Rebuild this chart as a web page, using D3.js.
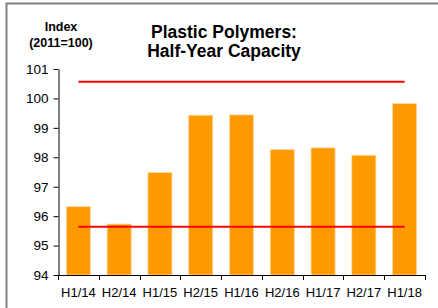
<!DOCTYPE html>
<html>
<head>
<meta charset="utf-8">
<script src="https://cdn.jsdelivr.net/npm/d3@7"></script>
<style>
body { margin: 0; background: #fff; }
svg text { font-family: Arial, "Liberation Sans", sans-serif; fill: #000; }
</style>
</head>
<body>
<div class="chart"></div>
<script>
var categories = ["H1/14", "H2/14", "H1/15", "H2/15", "H1/16", "H2/16", "H1/17", "H2/17", "H1/18"];
var capacity = [96.32, 95.73, 97.48, 99.43, 99.44, 98.26, 98.32, 98.07, 99.83];
var upperLine = 100.57;
var lowerLine = 95.64;
var yTicks = [94, 95, 96, 97, 98, 99, 100, 101];

var w = 438, h = 308;
var padLeft = 58, padRight = 425, padTop = 69, padBottom = 275;

var svg = d3.select(".chart").append("svg")
    .attr("width", w)
    .attr("height", h);

// frame (only top and left edges show in the picture)
svg.append("path")
    .attr("d", "M6.5,308 V3.5 H438")
    .attr("fill", "none")
    .attr("stroke", "#808080")
    .attr("stroke-width", 2);

var xScale = d3.scaleBand()
    .domain(categories)
    .range([padLeft, padRight])
    .paddingInner(0.41)
    .paddingOuter(0.205);

var xBand = d3.scaleBand() // for tick positions at band edges
    .domain(categories)
    .range([padLeft, padRight]);

var yScale = d3.scaleLinear()
    .domain([94, 101])
    .range([padBottom, padTop]);

// bars
svg.selectAll("rect.bar")
    .data(capacity)
    .enter()
    .append("rect")
    .attr("class", "bar")
    .attr("x", function(d, i) { return xScale(categories[i]); })
    .attr("y", function(d) { return yScale(d); })
    .attr("width", xScale.bandwidth())
    .attr("height", function(d) { return yScale(94) - yScale(d); })
    .attr("fill", "#FF9900")
    .attr("stroke", "#FFD9A0")
    .attr("stroke-width", 0.8);

// red reference lines
var x1 = xBand(categories[0]) + xBand.bandwidth() / 2;
var x2 = xBand(categories[categories.length - 1]) + xBand.bandwidth() / 2;
[upperLine, lowerLine].forEach(function(v) {
    svg.append("line")
        .attr("x1", x1)
        .attr("x2", x2)
        .attr("y1", yScale(v))
        .attr("y2", yScale(v))
        .attr("stroke", "#FF0000")
        .attr("stroke-width", 2);
});

// y axis
var yAxis = svg.append("g")
    .attr("transform", "translate(" + (padLeft + 0.5) + ",0)")
    .call(d3.axisLeft(yScale)
        .tickValues(yTicks)
        .tickFormat(d3.format("d"))
        .tickSize(5)
        .tickSizeOuter(0)
        .tickPadding(5));
yAxis.selectAll("text")
    .attr("font-size", 13.5)
    .attr("font-family", "Arial, 'Liberation Sans', sans-serif");

// x axis with ticks at band edges
var xAxis = svg.append("g")
    .attr("transform", "translate(0," + padBottom + ")");
xAxis.append("line")
    .attr("x1", padLeft).attr("x2", padRight)
    .attr("y1", 0.5).attr("y2", 0.5)
    .attr("stroke", "#000");
var edges = categories.map(function(c) { return xBand(c); }).concat([padRight]);
xAxis.selectAll("line.tick")
    .data(edges)
    .enter()
    .append("line")
    .attr("class", "tick")
    .attr("x1", function(d) { return Math.round(d) + 0.5; })
    .attr("x2", function(d) { return Math.round(d) + 0.5; })
    .attr("y1", 0)
    .attr("y2", 5)
    .attr("stroke", "#000");
xAxis.selectAll("text")
    .data(categories)
    .enter()
    .append("text")
    .attr("x", function(d) { return xBand(d) + xBand.bandwidth() / 2; })
    .attr("y", 22)
    .attr("text-anchor", "middle")
    .attr("font-size", 13)
    .text(function(d) { return d; });

// axis unit label
svg.append("text")
    .attr("x", 61).attr("y", 31)
    .attr("text-anchor", "middle")
    .attr("font-size", 12.5).attr("font-weight", "bold")
    .text("Index");
svg.append("text")
    .attr("x", 61).attr("y", 47)
    .attr("text-anchor", "middle")
    .attr("font-size", 12.5).attr("font-weight", "bold")
    .text("(2011=100)");

// title
svg.append("text")
    .attr("x", 224).attr("y", 38)
    .attr("text-anchor", "middle")
    .attr("font-size", 17.5).attr("font-weight", "bold")
    .text("Plastic Polymers:");
svg.append("text")
    .attr("x", 224).attr("y", 57)
    .attr("text-anchor", "middle")
    .attr("font-size", 17.5).attr("font-weight", "bold")
    .text("Half-Year Capacity");
</script>
</body>
</html>
